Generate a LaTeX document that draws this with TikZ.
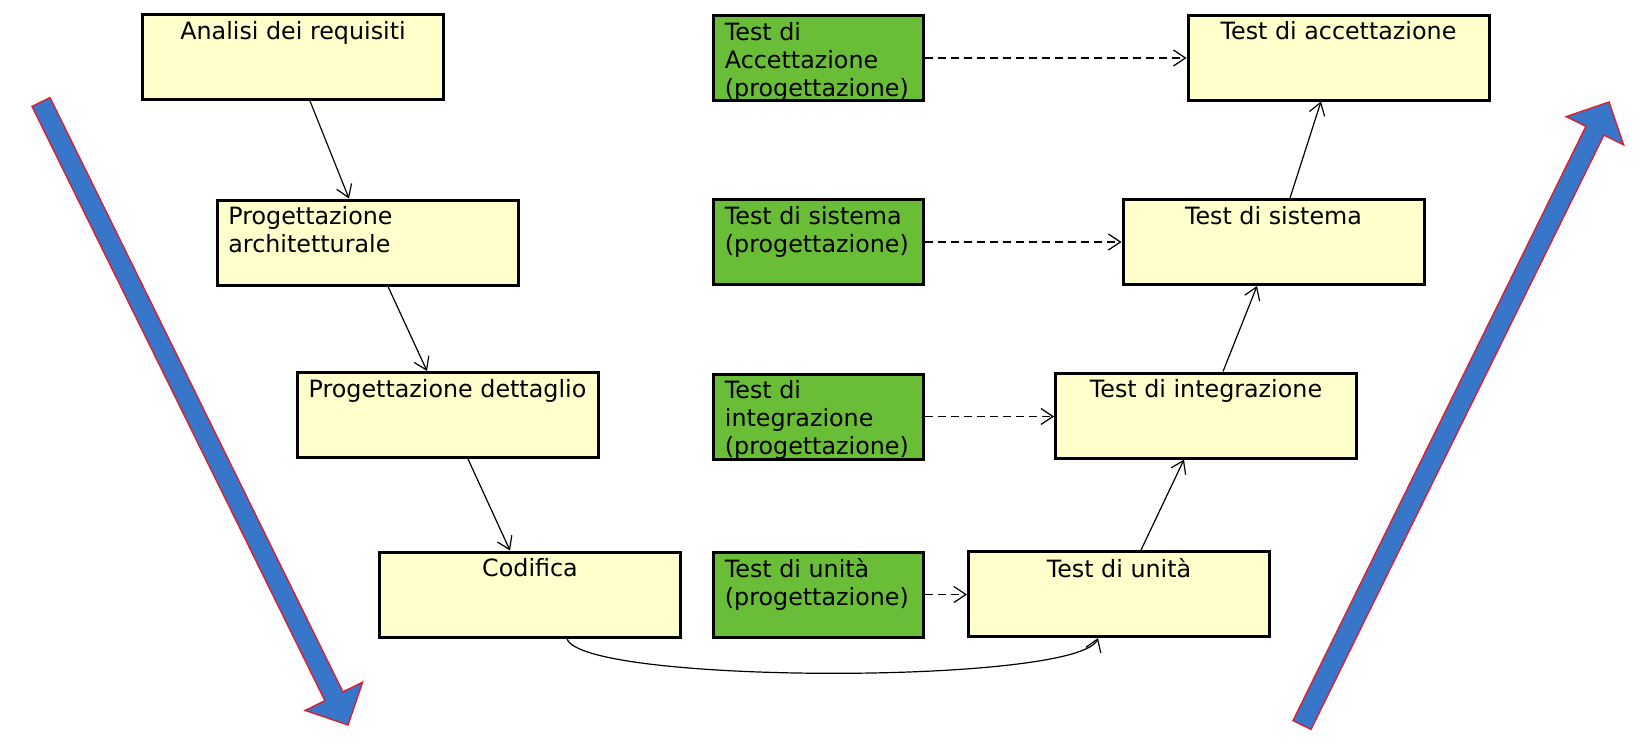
\documentclass[tikz,border=0pt]{standalone}
\usepackage{fontspec}
\setmainfont{DejaVu Sans}
\usetikzlibrary{arrows.meta}

\begin{document}
\begin{tikzpicture}[x=0.5pt, y=-0.5pt,
  ybox/.style={draw, line width=1.5pt, fill=boxyellow, minimum width=150.5pt, minimum height=42.5pt, inner sep=0pt},
  gbox/.style={ybox, fill=boxgreen, minimum width=105pt},
  ylbl/.style={anchor=north, yshift=-4pt, inner sep=0pt, font=\fontsize{11.9}{14}\selectfont},
  glbl/.style={ylbl, anchor=north west, xshift=6.25pt, align=left},
  flow/.style={line width=0.6pt, -{Straight Barb[length=6pt,width=8pt]}},
  link/.style={flow, dash pattern=on 4pt off 2.5pt},
  bigarrow/.style={fill=arrowblue, draw=arrowred, line width=0.7pt}]

\definecolor{boxyellow}{RGB}{255,255,204}
\definecolor{boxgreen}{RGB}{106,189,54}
\definecolor{arrowblue}{RGB}{55,118,200}
\definecolor{arrowred}{RGB}{220,30,50}

\useasboundingbox (0,0) rectangle (1650,750);

% left branch
\node[ybox, label={[ylbl]north:Analisi dei requisiti}] (ana) at (293,57) {};
\node[ybox, label={[glbl]north west:Progettazione\\architetturale}] (arch) at (367.5,242.5) {};
\node[ybox, label={[ylbl]north:Progettazione dettaglio}] (det) at (447.5,415) {};
\node[ybox, label={[ylbl]north:Codifica}] (cod) at (530,594.5) {};

% test design
\node[gbox, label={[glbl]north west:Test di\\Accettazione\\(progettazione)}] (pacc) at (818.5,58) {};
\node[gbox, label={[glbl]north west:Test di sistema\\(progettazione)}] (psis) at (818.5,242) {};
\node[gbox, label={[glbl]north west:Test di\\integrazione\\(progettazione)}] (pint) at (818.5,416.5) {};
\node[gbox, label={[glbl]north west:Test di unità\\(progettazione)}] (puni) at (818.5,594.5) {};

% right branch
\node[ybox, label={[ylbl]north:Test di accettazione}] (tacc) at (1338.5,57.5) {};
\node[ybox, label={[ylbl]north:Test di sistema}] (tsis) at (1273.5,242) {};
\node[ybox, label={[ylbl]north:Test di integrazione}] (tint) at (1206,415.5) {};
\node[ybox, label={[ylbl]north:Test di unità}] (tuni) at (1119,594) {};

\draw[flow] ([xshift=8.5pt]ana.south) -- ([xshift=-9.25pt]arch.north);
\draw[flow] ([xshift=10.25pt]arch.south) -- ([xshift=-10.25pt]det.north);
\draw[flow] ([xshift=10.25pt]det.south) -- ([xshift=-10pt]cod.north);
\draw[flow] ([xshift=18.5pt]cod.south) .. controls +(6.5pt,-23pt) and +(-9pt,-23.5pt) .. ([xshift=-10.5pt]tuni.south);
\draw[flow] ([xshift=11pt]tuni.north) -- ([xshift=-11pt]tint.south);
\draw[flow] ([xshift=8.5pt]tint.north) -- ([xshift=-8.25pt]tsis.south);
\draw[flow] ([xshift=8.25pt]tsis.north) -- ([xshift=-8.75pt]tacc.south);

\draw[link] (pacc.east) -- (pacc.east -| tacc.west);
\draw[link] (psis.east) -- (psis.east -| tsis.west);
\draw[link] (pint.east) -- (pint.east -| tint.west);
\draw[link] (puni.east) -- (puni.east -| tuni.west);

% big arrows
\draw[bigarrow] (50,97.6) -- (342.9,691.9) -- (362.6,682.2) -- (348,725) -- (305.2,710.4) -- (324.9,700.7) -- (32,106.4) -- cycle;
\draw[bigarrow] (1311,729.4) -- (1603.9,135.1) -- (1623.6,144.8) -- (1609,102) -- (1566.2,116.6) -- (1585.9,126.3) -- (1293,720.6) -- cycle;

\end{tikzpicture}
\end{document}
